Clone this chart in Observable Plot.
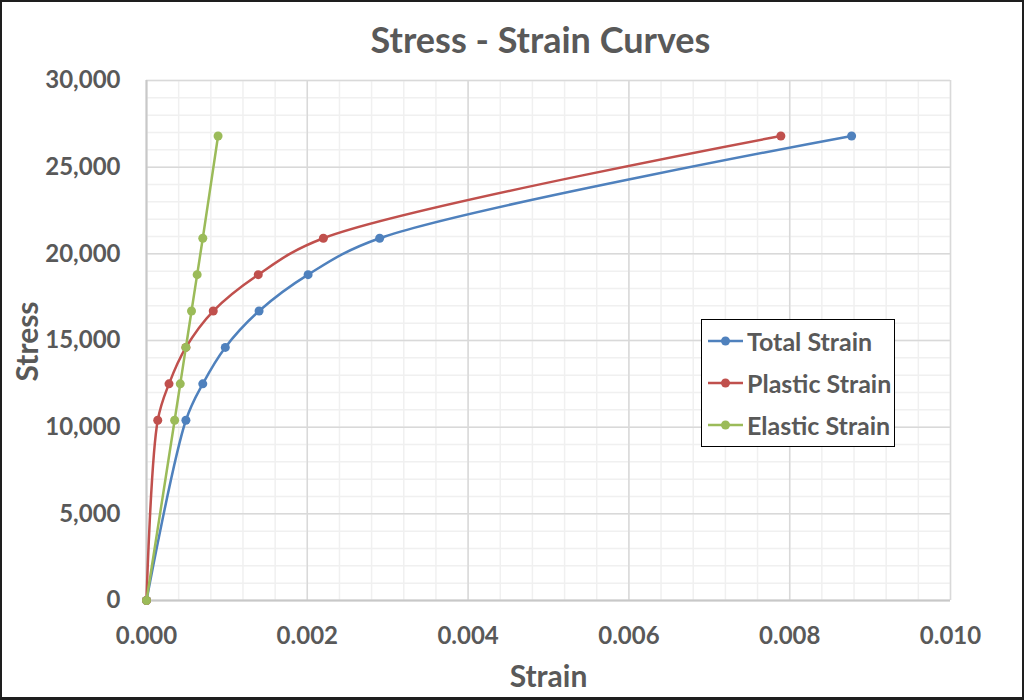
<!DOCTYPE html>
<html>
<head>
<meta charset="utf-8">
<script src="https://cdn.jsdelivr.net/npm/d3@7"></script>
<script src="https://cdn.jsdelivr.net/npm/@observablehq/plot@0.6"></script>
<style>
  html, body { margin: 0; padding: 0; background: #fff; }
  #wrap { position: relative; width: 1024px; height: 700px; overflow: hidden; font-family: Lato, "Open Sans", sans-serif; }
  #frame { position: absolute; left: 0; top: 0; width: 1024px; height: 700px; box-sizing: border-box; border: 2px solid #1e1e1e; border-bottom-width: 3px; pointer-events: none; }
  #legend { position: absolute; left: 701px; top: 319px; width: 194px; height: 128px; box-sizing: border-box; border: 1.5px solid #000; background: #fff; }
  .item { position: absolute; left: 6px; height: 30px; display: flex; align-items: center; }
  .item span { font-weight: bold; font-size: 25px; color: #595959; margin-left: 3px; white-space: nowrap; }
</style>
</head>
<body>
<div id="wrap">
  <div id="chart"></div>
  <div id="legend"></div>
  <div id="frame"></div>
</div>
<script>
// Data
const stress        = [0, 10400, 12500, 14600, 16700, 18800, 20900, 26800];
const totalStrain   = [0, 0.00049, 0.00070, 0.00098, 0.00140, 0.00201, 0.00290, 0.00877];
const plasticStrain = [0, 0.00014, 0.00028, 0.00049, 0.00083, 0.00139, 0.00220, 0.00789];
const elasticStrain = [0, 0.00035, 0.00042, 0.00049, 0.00056, 0.00063, 0.00070, 0.00089];

const seriesNames  = ["Total Strain", "Plastic Strain", "Elastic Strain"];
const seriesColors = ["#4f81bd", "#c0504d", "#9bbb59"];
const seriesValues = [totalStrain, plasticStrain, elasticStrain];

const xTicks = [0, 0.002, 0.004, 0.006, 0.008, 0.010];
const yTicks = [0, 5000, 10000, 15000, 20000, 25000, 30000];
const xMinor = d3.range(0, 0.01001, 0.0004);
const yMinor = d3.range(0, 30001, 1000);

const rows = seriesNames.flatMap((name, i) =>
  stress.map((s, j) => ({series: name, strain: seriesValues[i][j], stress: s})));

const marks = [
  Plot.gridX(xMinor, {stroke: "#f0f0f0", strokeOpacity: 1, strokeWidth: 1.5}),
  Plot.gridY(yMinor, {stroke: "#f0f0f0", strokeOpacity: 1, strokeWidth: 1.5}),
  Plot.gridX(xTicks, {stroke: "#d9d9d9", strokeOpacity: 1, strokeWidth: 1.5}),
  Plot.gridY(yTicks, {stroke: "#d9d9d9", strokeOpacity: 1, strokeWidth: 1.5}),
  Plot.ruleX([0], {stroke: "#c8c8c8", strokeWidth: 2}),
  Plot.ruleY([0], {stroke: "#c8c8c8", strokeWidth: 2}),
  Plot.axisX({ticks: xTicks, tickFormat: d3.format(".3f"), tickSize: 0, tickPadding: 26, fontSize: 24, label: null}),
  Plot.axisY({ticks: yTicks, tickFormat: d3.format(","), tickSize: 0, tickPadding: 26, fontSize: 24, label: null})
];
seriesNames.forEach((name, i) => {
  const d = rows.filter(r => r.series === name);
  marks.push(Plot.line(d, {x: "strain", y: "stress", stroke: seriesColors[i], strokeWidth: 2.5, curve: "catmull-rom"}));
  marks.push(Plot.dot(d, {x: "strain", y: "stress", fill: seriesColors[i], r: 4.5}));
});
marks.push(
  Plot.text(["Stress - Strain Curves"], {frameAnchor: "top", lineAnchor: "middle", textAnchor: "middle", dx: -8, dy: -39, fontSize: 36, fontWeight: "bold", fill: "#595959"}),
  Plot.text(["Strain"], {frameAnchor: "bottom", lineAnchor: "middle", textAnchor: "middle", dy: 77, fontSize: 30, fontWeight: "bold", fill: "#595959"}),
  Plot.text(["Stress"], {frameAnchor: "left", lineAnchor: "middle", textAnchor: "middle", dx: -118, dy: 1, rotate: -90, fontSize: 30, fontWeight: "bold", fill: "#595959"})
);

const chart = Plot.plot({
  width: 1024,
  height: 700,
  marginLeft: 146,
  marginRight: 74,
  marginTop: 80,
  marginBottom: 100,
  x: {domain: [0, 0.010]},
  y: {domain: [0, 30000]},
  style: {fontFamily: "Lato, 'Open Sans', sans-serif", fontWeight: "bold", color: "#595959", background: "#fff"},
  marks
});
document.getElementById("chart").appendChild(chart);

// Legend
const legend = document.getElementById("legend");
const rowTops = [6, 48, 90];
seriesNames.forEach((name, i) => {
  const item = document.createElement("div");
  item.className = "item";
  item.style.top = rowTops[i] + "px";
  item.innerHTML = `<svg width="36" height="14"><line x1="0" y1="7" x2="35" y2="7" stroke="${seriesColors[i]}" stroke-width="2.5"/><circle cx="17.5" cy="7" r="4.5" fill="${seriesColors[i]}"/></svg><span>${name}</span>`;
  legend.appendChild(item);
});
</script>
</body>
</html>
